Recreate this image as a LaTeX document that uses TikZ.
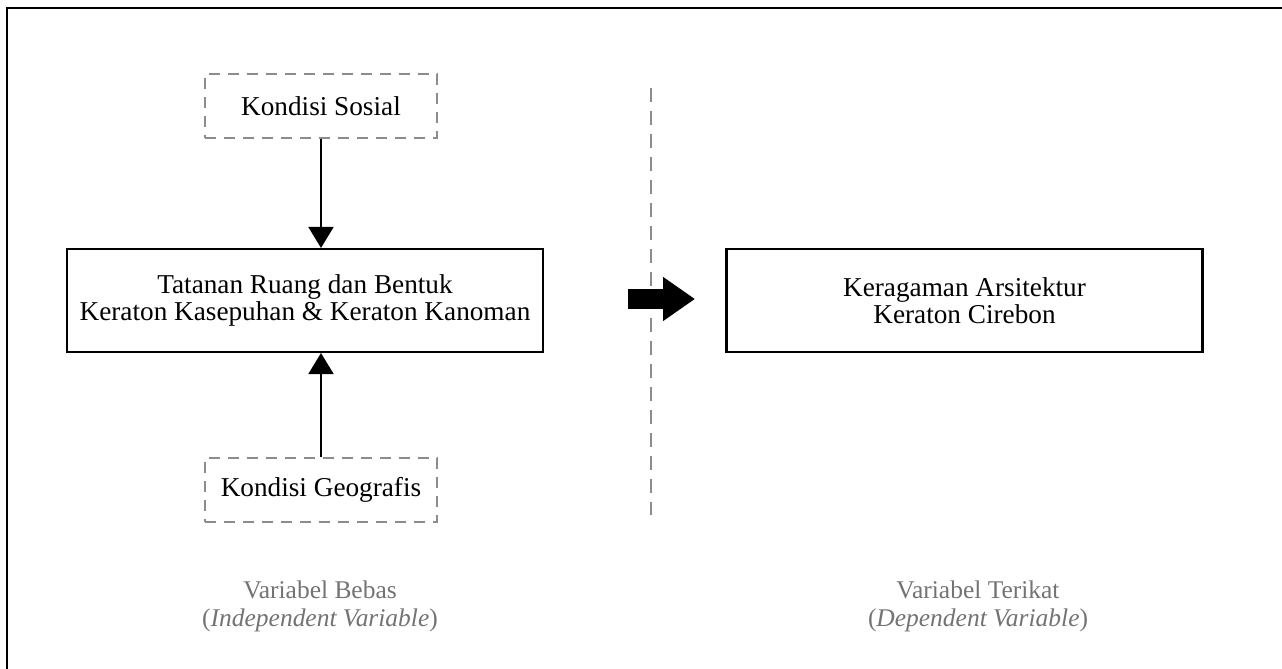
\documentclass[tikz,border=0pt]{standalone}
\usepackage{fontspec}
\setmainfont{Liberation Serif}
\usetikzlibrary{arrows.meta}
\colorlet{dashgray}{black!45}
\colorlet{labelgray}{black!55}

\begin{document}
\begin{tikzpicture}[
    x=0.02cm,
    y=-0.02cm,
    factor/.style={
        draw=dashgray,
        line width=0.6pt,
        dash pattern=on 0.22cm off 0.16cm,
        minimum width=4.64cm,
        minimum height=1.28cm,
        inner sep=0pt,
        font=\fontsize{15.5}{16}\selectfont
    },
    varbox/.style={
        draw,
        line width=1.2pt,
        minimum width=9.52cm,
        minimum height=2.06cm,
        inner sep=0pt,
        align=center,
        font=\fontsize{15.5}{15.5}\selectfont
    },
    caption/.style={
        text=labelgray,
        align=center,
        font=\fontsize{14.5}{16}\selectfont
    }
]
    \useasboundingbox (0,0) rectangle (1282,669);
    \draw[line width=1.2pt] (7,669) -- (7,8) -- (1282,8);

    \node[factor] (sosial) at (321,106) {Kondisi Sosial};
    \node[factor] (geografis) at (321,490) {Kondisi Geografis};
    \node[varbox] (tatanan) at (305,300.5)
        {Tatanan Ruang dan Bentuk\\Keraton Kasepuhan \& Keraton Kanoman};
    \node[varbox] (keragaman) at (964.5,300.5)
        {Keragaman Arsitektur\\Keraton Cirebon};

    \draw[line width=1.1pt,-{Triangle[width=0.5cm,length=0.42cm]}]
        (sosial.south) -- (sosial.south |- tatanan.north);
    \draw[line width=1.1pt,-{Triangle[width=0.5cm,length=0.42cm]}]
        (geografis.north) -- (geografis.north |- tatanan.south);

    % pembatas variabel
    \coordinate (divtop) at (651,88);
    \coordinate (divbot) at (651,515);
    \draw[dashgray,line width=0.6pt,dash pattern=on 0.28cm off 0.18cm]
        (divtop) -- (divbot);

    % panah pengaruh
    \coordinate (flowstart) at (628,299);
    \coordinate (flowend) at (695,299);
    \draw[line width=0.4cm,-{Triangle[width=0.84cm,length=0.64cm]}]
        (flowstart) -- (flowend);

    \node[caption] (bebascap) at (320,606)
        {Variabel Bebas\\(\textit{Independent Variable})};
    \node[caption] (terikatcap) at (978,606)
        {Variabel Terikat\\(\textit{Dependent Variable})};
\end{tikzpicture}
\end{document}
